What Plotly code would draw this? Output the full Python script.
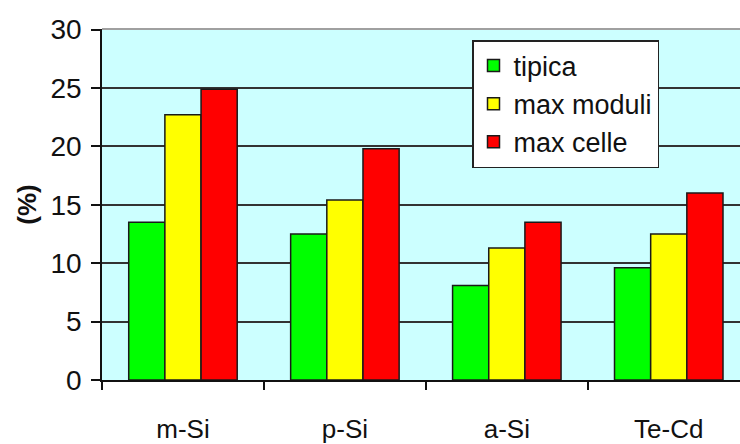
import plotly.graph_objects as go

categories = ["m-Si", "p-Si", "a-Si", "Te-Cd"]
series_names = ["tipica", "max moduli", "max celle"]
tipica = [13.5, 12.5, 8.1, 9.6]
max_moduli = [22.7, 15.4, 11.3, 12.5]
max_celle = [24.9, 19.8, 13.5, 16.0]
colors = ["#00FF00", "#FFFF00", "#FF0000"]
y_ticks = [0, 5, 10, 15, 20, 25, 30]

FONT = "Liberation Sans, Arial, sans-serif"

fig = go.Figure()
for name, vals, col in zip(series_names, [tipica, max_moduli, max_celle], colors):
    fig.add_trace(go.Bar(
        name=name, x=categories, y=vals,
        marker=dict(color=col, line=dict(color="#1a1a1a", width=1.5)),
    ))

fig.update_layout(
    width=740, height=444,
    margin=dict(l=102, r=0, t=29, b=64, autoexpand=False),
    paper_bgcolor="white",
    plot_bgcolor="#CCFFFF",
    barmode="group",
    bargap=0.33,
    bargroupgap=0,
    font=dict(family=FONT, size=26, color="#111111"),
    showlegend=True,
    legend=dict(
        x=(472 - 102) / 638, y=(380 - 40) / 351, xanchor="left", yanchor="top",
        bgcolor="white", bordercolor="#222222", borderwidth=1.5,
        font=dict(family=FONT, size=27, color="#111111"),
        tracegroupgap=0,
    ),
    shapes=[dict(type="line", xref="paper", yref="paper", x0=0, x1=1, y0=1, y1=1,
                 line=dict(color="#A0A0A0", width=2))],
)

fig.update_xaxes(
    range=[-0.5, 3.44],
    automargin=False,
    showline=True, linecolor="#111111", linewidth=1.5,
    ticks="outside", tickson="boundaries", ticklen=8, tickwidth=1.5, tickcolor="#111111",
    ticklabelstandoff=25,
    showgrid=False,
    tickfont=dict(family=FONT, size=26, color="#111111"),
)
fig.update_yaxes(
    range=[0, 30.05],
    automargin=False,
    tickvals=y_ticks,
    showline=True, linecolor="#111111", linewidth=1.5,
    ticks="outside", ticklen=9, tickwidth=1.5, tickcolor="#111111",
    ticklabelstandoff=4,
    showgrid=True, gridcolor="#333333", gridwidth=1.5,
    zeroline=False,
    tickfont=dict(family=FONT, size=28, color="#111111"),
    title=dict(text="<b>(%)</b>", font=dict(family=FONT, size=26, color="#111111"), standoff=6),
)

fig.write_html(
    "out.html",
    config={"displayModeBar": False},
    post_script="document.body.style.margin='0';document.body.style.padding='0';",
)
